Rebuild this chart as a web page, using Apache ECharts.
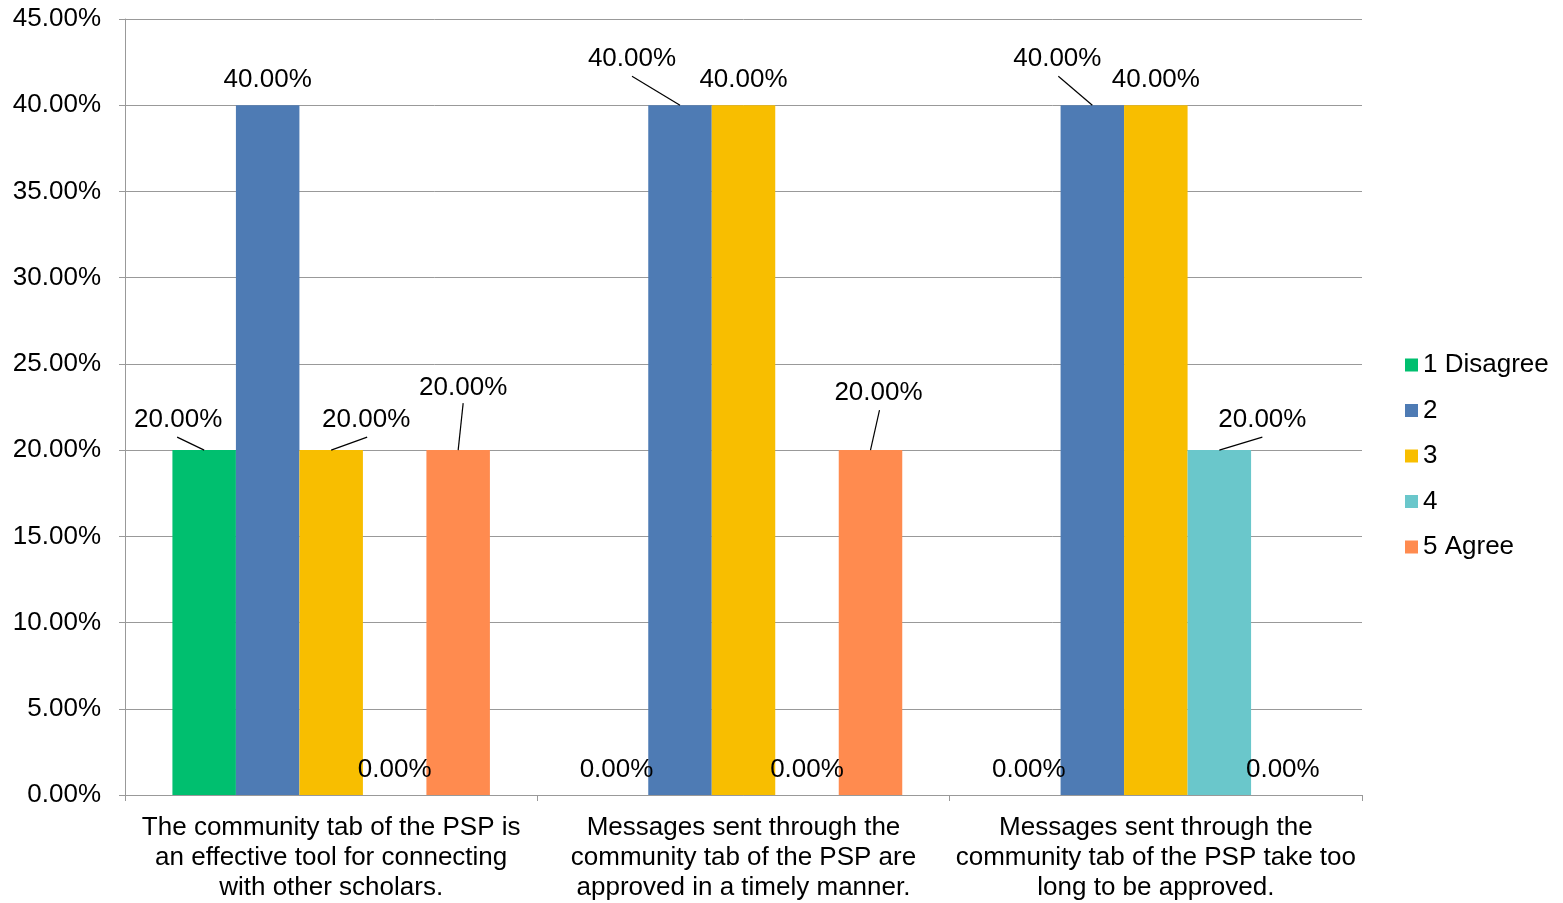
<!DOCTYPE html>
<html>
<head>
<meta charset="utf-8">
<script src="https://cdn.jsdelivr.net/npm/echarts@6/dist/echarts.min.js"></script>
<style>
html,body{margin:0;padding:0;background:#fff;}
#chart{width:1563px;height:903px;}
</style>
</head>
<body>
<div id="chart"></div>
<script>
// ---- data ----
const categories = [
  "The community tab of the PSP is\nan effective tool for connecting\nwith other scholars.",
  "Messages sent through the\ncommunity tab of the PSP are\napproved in a timely manner.",
  "Messages sent through the\ncommunity tab of the PSP take too\nlong to be approved."
];
const seriesNames = ["1 Disagree", "2", "3", "4", "5 Agree"];
const disagree1 = [0.20, 0.00, 0.00];
const level2 = [0.40, 0.40, 0.40];
const level3 = [0.20, 0.40, 0.40];
const level4 = [0.00, 0.00, 0.20];
const agree5 = [0.20, 0.20, 0.00];
const yTicks = { min: 0, max: 0.45, interval: 0.05 };

// ---- styles ----
const colors = ["#00BF6F", "#4E7BB4", "#F8BE00", "#6AC7CB", "#FF8B4F"];
const FONT = "Liberation Sans, Arial, sans-serif";
const FS = 26;
// label moves (pixel offsets from the bar's top centre): dx,dy = text centre; lx,ly = leader end
const moved = {
  "0-0": { dx: -26, dy: -30, lx: -27, ly: -13 },
  "2-0": { dx: 35, dy: -30, lx: 36, ly: -13 },
  "4-0": { dx: 5, dy: -62, lx: 5, ly: -47 },
  "1-1": { dx: -48, dy: -46, lx: -48, ly: -29 },
  "4-1": { dx: 8, dy: -57, lx: 9, ly: -40 },
  "1-2": { dx: -35, dy: -46, lx: -34, ly: -29 },
  "3-2": { dx: 43, dy: -30, lx: 43, ly: -13 }
};
const CAT_GAP = 0.23;

const allSeries = [disagree1, level2, level3, level4, agree5];
const pct = v => (v * 100).toFixed(2) + "%";

const barSeries = allSeries.map((arr, si) => ({
  name: seriesNames[si],
  type: "bar",
  barGap: 0,
  barCategoryGap: (CAT_GAP * 100) + "%",
  itemStyle: { color: colors[si] },
  label: {
    show: true, position: "top", distance: 12,
    formatter: p => pct(p.value),
    color: "#000", fontSize: FS, fontFamily: FONT
  },
  data: arr.map((v, di) => moved[si + "-" + di] ? { value: v, label: { show: false } } : v)
}));

const movedData = [];
allSeries.forEach((arr, si) => arr.forEach((v, di) => {
  if (moved[si + "-" + di]) movedData.push([di, v, si]);
}));

const labelSeries = {
  type: "custom",
  z: 10,
  silent: true,
  encode: { x: 0, y: 1 },
  data: movedData,
  renderItem: function (params, api) {
    const di = api.value(0), v = api.value(1), si = api.value(2);
    const m = moved[si + "-" + di];
    const c = api.coord([di, v]);
    const band = api.size([1, 0])[0];
    const barW = band * (1 - CAT_GAP) / allSeries.length;
    const x = c[0] + (si - (allSeries.length - 1) / 2) * barW;
    const y = c[1];
    return {
      type: "group",
      children: [
        { type: "line", shape: { x1: x, y1: y, x2: x + m.lx, y2: y + m.ly },
          style: { stroke: "#000", lineWidth: 1.2 } },
        { type: "text", x: x + m.dx, y: y + m.dy,
          style: { text: pct(v), fill: "#000", font: FS + "px " + FONT, align: "center", verticalAlign: "middle" } }
      ]
    };
  }
};

const chart = echarts.init(document.getElementById("chart"));
chart.setOption({
  animation: false,
  backgroundColor: "#fff",
  color: colors,
  grid: { left: 125, right: 201, top: 19, bottom: 108, containLabel: false },
  legend: {
    data: seriesNames,
    orient: "vertical",
    left: 1400, top: 347,
    itemWidth: 13, itemHeight: 13, itemGap: 19.5,
    icon: "rect",
    textStyle: { fontSize: FS, fontFamily: FONT, color: "#000" }
  },
  xAxis: {
    type: "category",
    data: categories,
    axisLine: { show: true, lineStyle: { color: "#999", width: 1 } },
    axisTick: { show: true, length: 6, lineStyle: { color: "#999" } },
    axisLabel: { interval: 0, margin: 18, fontSize: FS, lineHeight: 30, fontFamily: FONT, color: "#000", align: "center" }
  },
  yAxis: {
    type: "value",
    min: yTicks.min, max: yTicks.max, interval: yTicks.interval,
    axisLine: { show: true, lineStyle: { color: "#999", width: 1 } },
    axisTick: { show: true, length: 6, lineStyle: { color: "#999" } },
    axisLabel: { margin: 24, formatter: v => pct(v), fontSize: FS, fontFamily: FONT, color: "#000" },
    splitLine: { show: true, lineStyle: { color: "#999", width: 1 } }
  },
  series: barSeries.concat([labelSeries])
});
</script>
</body>
</html>
